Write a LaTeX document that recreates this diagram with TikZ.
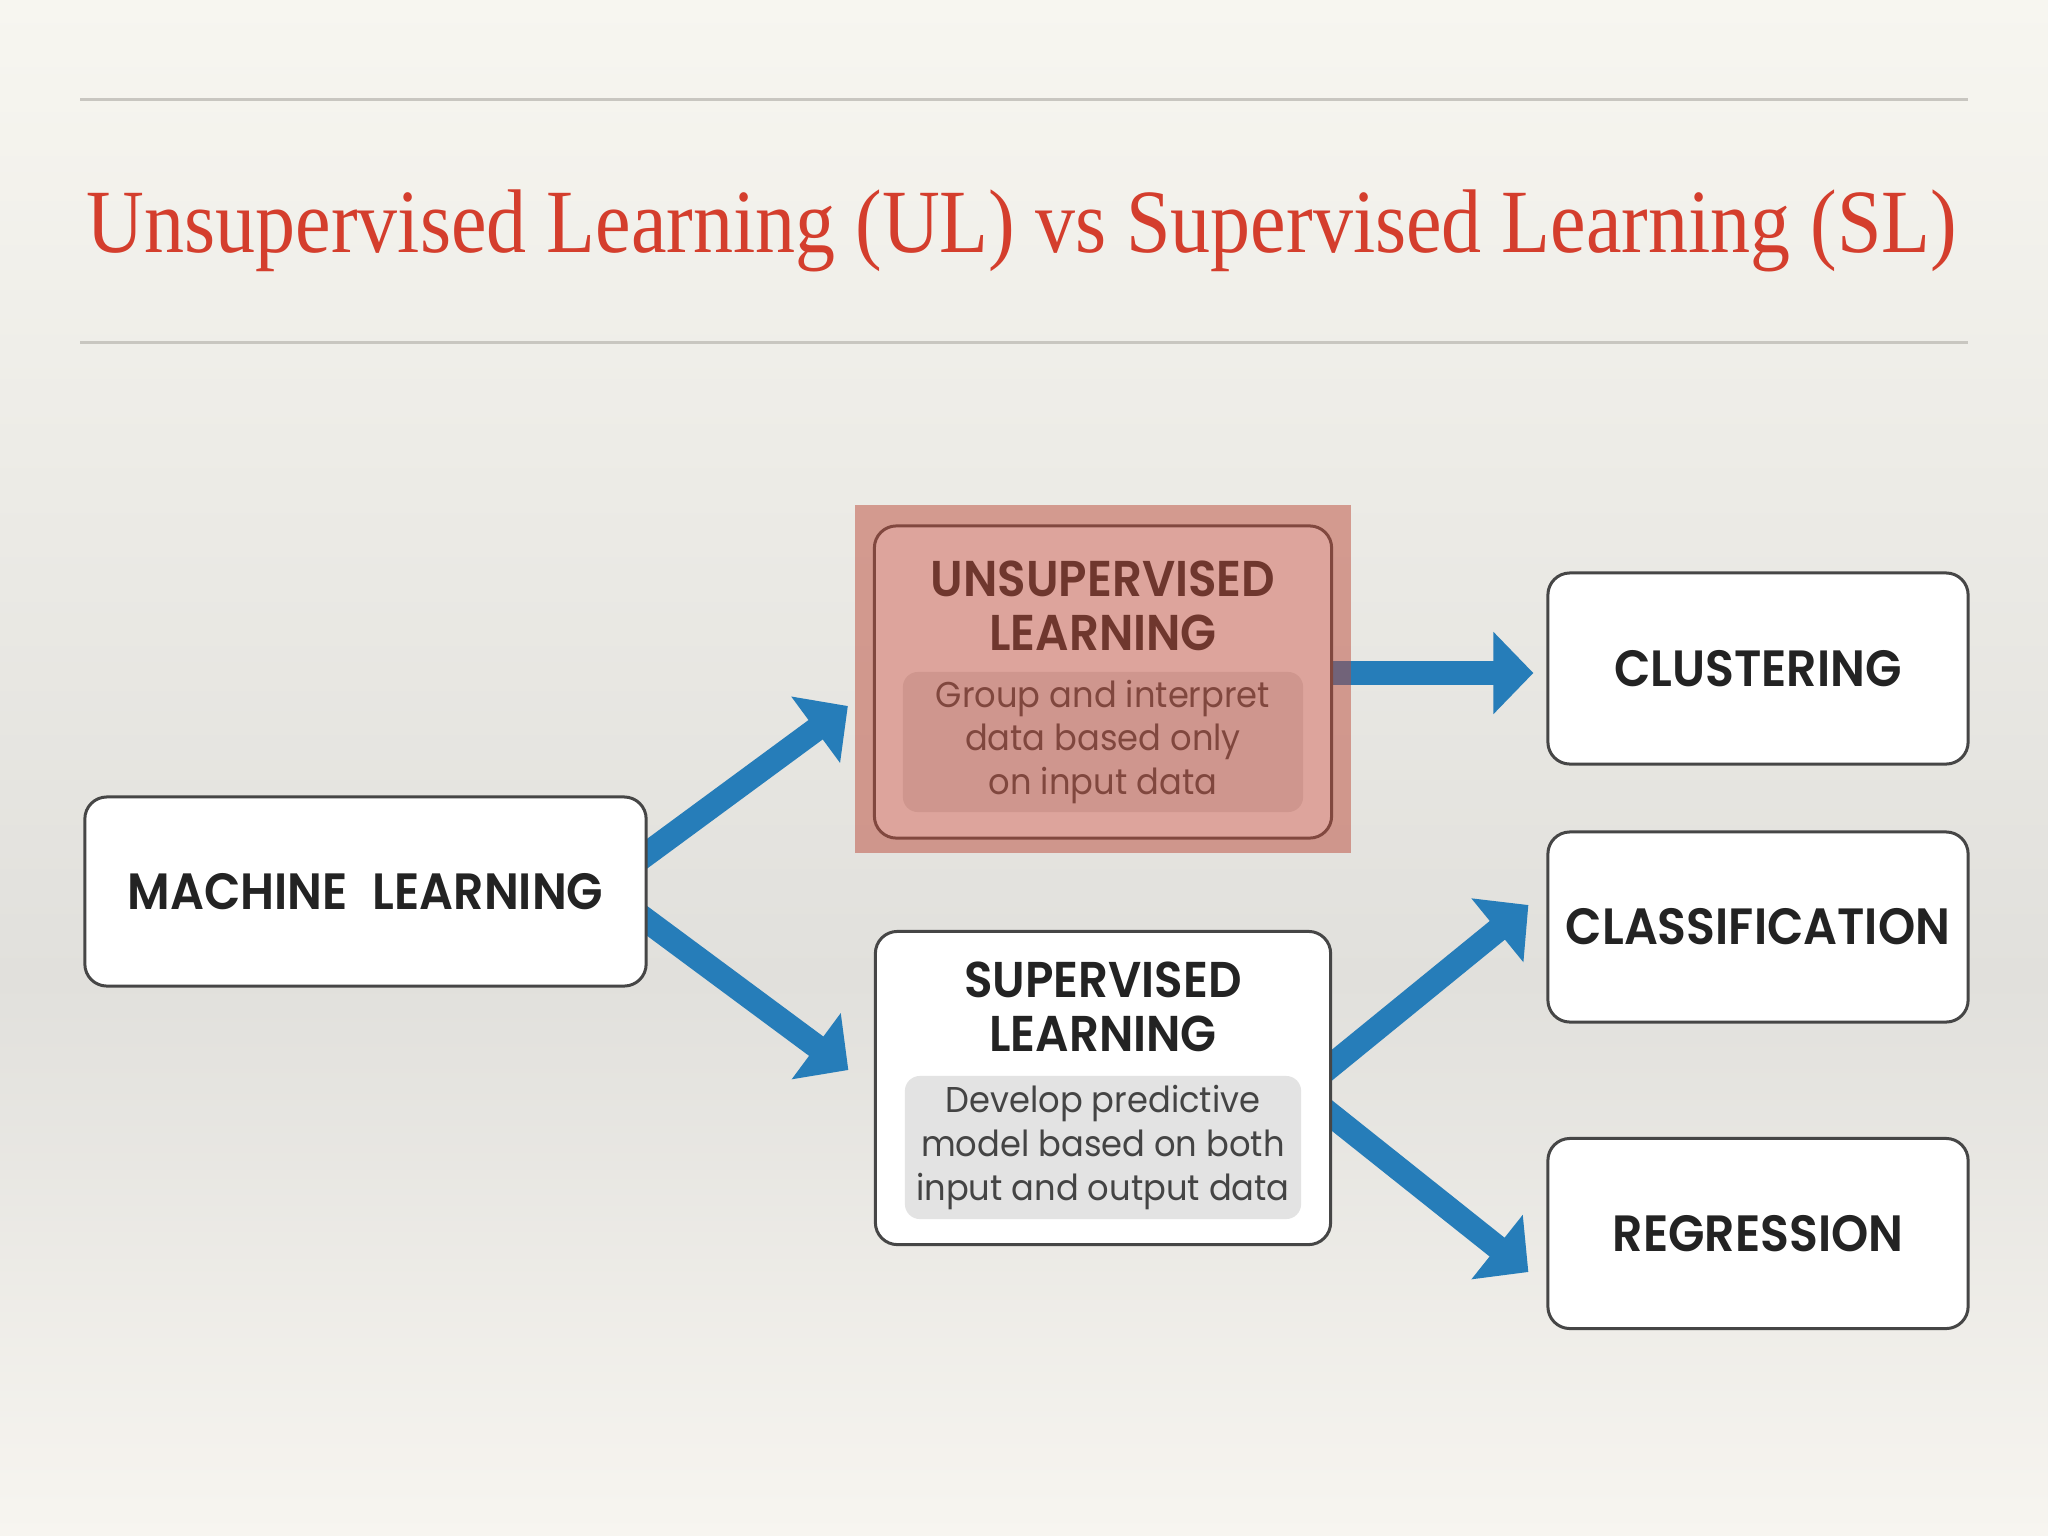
\documentclass[tikz,border=0pt]{standalone}
\usepackage{fontspec}
\setmainfont{Liberation Serif}
\newfontfamily\titlefont[FakeStretch=0.885]{Liberation Serif}
\newfontfamily\boxfont[FakeStretch=0.93, WordSpace=2.2, BoldFont={Poppins SemiBold}]{Poppins}
\newfontfamily\notefont[FakeStretch=0.94]{Poppins}
\usetikzlibrary{arrows.meta,positioning}

\definecolor{bgtop}{RGB}{247,246,240}
\definecolor{bgmid}{RGB}{225,224,220}
\definecolor{bgbot}{RGB}{247,245,240}
\definecolor{rulegray}{RGB}{200,198,192}
\definecolor{titlered}{RGB}{212,62,45}
\definecolor{flowblue}{RGB}{38,125,185}
\definecolor{boxline}{RGB}{70,70,70}
\definecolor{inkdark}{RGB}{35,35,35}
\definecolor{notegray}{RGB}{227,227,227}
\definecolor{hlred}{RGB}{188,75,58}

\pgfdeclarelayer{bg}
\pgfdeclarelayer{flows}
\pgfsetlayers{bg,flows,main}

\tikzset{
  box/.style={draw=boxline, fill=white, line width=0.3mm, rounded corners=2.2mm, inner sep=0pt},
  boxlabel/.style={font=\boxfont\bfseries\fontsize{14.5}{17}\selectfont, text=inkdark},
  heading/.style={font=\boxfont\bfseries\fontsize{14.3}{15.4}\selectfont, text=inkdark, align=center, inner sep=0pt},
  note/.style={fill=notegray, rounded corners=1.5mm, inner sep=0pt, align=center,
    font=\notefont\fontsize{10.2}{12.5}\selectfont, text=inkdark!85},
  flow/.style={draw=flowblue, line width=2.4mm, -{Triangle[length=4mm,width=8mm]}}
}

\begin{document}
\begin{tikzpicture}[x=0.01cm, y=-0.01cm]
  \useasboundingbox (0,0) rectangle (2048,1536);

  % background
  \begin{pgfonlayer}{bg}
    \shade[top color=bgtop, bottom color=bgmid] (0,0) rectangle (2048,980);
    \shade[top color=bgmid, bottom color=bgbot] (0,980) rectangle (2048,1536);
  \end{pgfonlayer}

  % title
  \draw[rulegray, line width=0.3mm] (80,99) -- (1968,99);
  \draw[rulegray, line width=0.3mm] (80,342) -- (1968,342);
  \node[anchor=base, text=titlered, font=\titlefont\fontsize{25.7}{30}\selectfont] (title) at (1022,252)
    {Unsupervised Learning (UL) vs Supervised Learning (SL)};

  % boxes
  \node[box, boxlabel, minimum width=5.61cm, minimum height=1.89cm] (ml) at (365.5,891.5) {MACHINE LEARNING};
  \node[box, minimum width=4.57cm, minimum height=3.12cm] (ul) at (1103,682) {};
  \node[box, minimum width=4.55cm, minimum height=3.13cm] (sl) at (1103,1088) {};
  \node[box, boxlabel, minimum width=4.2cm, minimum height=1.91cm] (clu) at (1758,668.5) {CLUSTERING};
  \node[box, boxlabel, minimum width=4.2cm, minimum height=1.9cm] (cla) at (1758,927) {CLASSIFICATION};
  \node[box, boxlabel, minimum width=4.2cm, minimum height=1.9cm] (reg) at (1758,1233.5) {REGRESSION};

  %% inside the two learning boxes
  \node[heading] (ulhead) at (1103,605.5) {UNSUPERVISED\\LEARNING};
  \node[note, minimum width=4.0cm, minimum height=1.4cm] (ulnote) at (1103,742)
    {Group and interpret\\data based only\\on input data};
  \node[heading] (slhead) at (1103,1007) {SUPERVISED\\LEARNING};
  \node[note, minimum width=3.96cm, minimum height=1.43cm] (slnote) at (1103,1147.5)
    {Develop predictive\\model based on both\\input and output data};

  % arrows
  \begin{pgfonlayer}{flows}
    \draw[flow] ([shift={(-20,-23.5)}]ml.east) -- ([shift={(-25,24)}]ul.west);
    \draw[flow] ([shift={(-20,15)}]ml.east) -- ([shift={(-25.5,-18)}]sl.west);
    \draw[flow] ([shift={(-10,-9)}]ul.east) -- ([shift={(-13,4.5)}]clu.west);
    \draw[flow] ([shift={(-18.5,-8)}]sl.east) -- ([shift={(-18,-22)}]cla.west);
    \draw[flow] ([shift={(-18.5,13)}]sl.east) -- ([shift={(-18,38.5)}]reg.west);
  \end{pgfonlayer}

  % highlight over unsupervised
  \fill[hlred, fill opacity=0.5] ([shift={(-17.5,-19)}]ul.north west) rectangle ([shift={(17.5,13)}]ul.south east);
\end{tikzpicture}
\end{document}
